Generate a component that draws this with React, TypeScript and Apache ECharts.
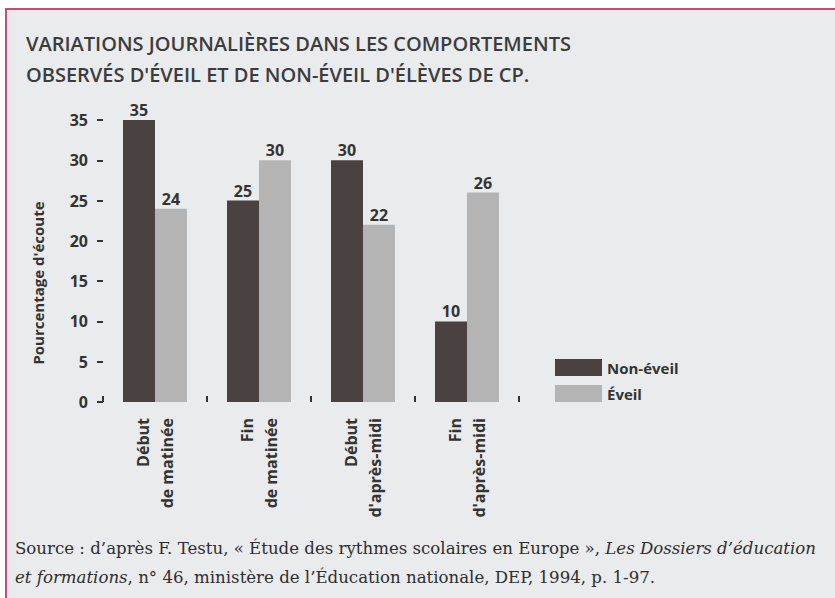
import React, { useEffect, useRef } from "react";
import * as echarts from "echarts";

const categories = [
  "Début\nde matinée",
  "Fin\nde matinée",
  "Début\nd'après-midi",
  "Fin\nd'après-midi",
];
const nonEveil = [35, 25, 30, 10];
const eveil = [24, 30, 22, 26];
const seriesNames = ["Non-éveil", "Éveil"];
const titleLines = [
  "VARIATIONS JOURNALIÈRES DANS LES COMPORTEMENTS",
  "OBSERVÉS D'ÉVEIL ET DE NON-ÉVEIL D'ÉLÈVES DE CP.",
];
const yAxisName = "Pourcentage d'écoute";

const DARK = "#4a4240";
const LIGHT = "#b4b4b4";
const INK = "#333333";
const LABEL_FONT = "'Open Sans', 'Noto Sans', sans-serif";

export default function App() {
  const ref = useRef<HTMLDivElement>(null);
  useEffect(() => {
    document.body.style.margin = "0";
    if (!ref.current) return;
    const chart = echarts.init(ref.current, undefined, { renderer: "svg" });
    const barLabel = {
      show: true,
      position: "top",
      distance: 2,
      fontFamily: LABEL_FONT,
      fontWeight: "bold",
      fontSize: 16,
      color: INK,
    };
    chart.setOption({
      animation: false,
      backgroundColor: "#e9ebec",
      title: {
        text: titleLines.join("\n"),
        left: 21,
        top: 23,
        textStyle: {
          fontFamily: "'Open Sans', sans-serif",
          fontWeight: 600,
          fontSize: 20,
          lineHeight: 31,
          color: "#3c3c3c",
        },
      },
      legend: {
        orient: "vertical",
        left: 555,
        top: 359,
        padding: 0,
        itemWidth: 47,
        itemHeight: 17,
        itemGap: 9,
        icon: "rect",
        data: seriesNames,
        textStyle: {
          fontFamily: LABEL_FONT,
          fontWeight: "bold",
          fontSize: 15,
          color: INK,
        },
      },
      grid: { left: 103, right: 316, top: 120, bottom: 196 },
      xAxis: {
        type: "category",
        data: categories,
        axisLine: { show: false },
        axisTick: {
          show: true,
          inside: true,
          length: 6,
          lineStyle: { color: INK, width: 2 },
        },
        axisLabel: {
          rotate: 90,
          margin: 16,
          fontFamily: LABEL_FONT,
          fontWeight: "bold",
          fontSize: 16,
          lineHeight: 24,
          color: INK,
        },
      },
      yAxis: {
        type: "value",
        min: 0,
        max: 35,
        interval: 5,
        axisLine: { show: false },
        splitLine: { show: false },
        axisTick: { show: true, length: 6, lineStyle: { color: INK, width: 2 } },
        axisLabel: {
          margin: 15,
          fontFamily: LABEL_FONT,
          fontWeight: "bold",
          fontSize: 16,
          color: INK,
        },
      },
      series: [
        {
          name: seriesNames[0],
          type: "bar",
          data: nonEveil,
          barWidth: 32,
          barGap: "0%",
          itemStyle: { color: DARK },
          label: barLabel,
        },
        {
          name: seriesNames[1],
          type: "bar",
          data: eveil,
          barWidth: 32,
          itemStyle: { color: LIGHT },
          label: barLabel,
        },
      ],
      graphic: [
        { type: "rect", left: 0, top: 0, shape: { width: 835, height: 8 }, style: { fill: "#ffffff" } },
        { type: "rect", left: 0, top: 0, shape: { width: 5, height: 598 }, style: { fill: "#ffffff" } },
        { type: "rect", left: 5, top: 8, shape: { width: 830, height: 2 }, style: { fill: "#c8497a" } },
        { type: "rect", left: 5, top: 8, shape: { width: 2, height: 590 }, style: { fill: "#c8497a" } },
        {
          type: "text",
          x: 38,
          y: 283,
          rotation: Math.PI / 2,
          style: {
            text: yAxisName,
            fontFamily: LABEL_FONT,
            fontWeight: "bold",
            fontSize: 15,
            fill: INK,
            align: "center",
            verticalAlign: "middle",
          },
        },
        {
          type: "text",
          left: 15,
          top: 540,
          style: {
            text:
              "{n|Source : d’après F. Testu, « Étude des rythmes scolaires en Europe », }{i|Les Dossiers d’éducation}\n{i|et formations}{n|, n° 46, ministère de l’Éducation nationale, DEP, 1994, p. 1-97.}",
            rich: {
              n: {
                fontFamily: "'DejaVu Serif', serif",
                fontSize: 16.6,
                lineHeight: 29,
                fill: "#2e2e2e",
              },
              i: {
                fontFamily: "'DejaVu Serif', serif",
                fontStyle: "italic",
                fontSize: 16.6,
                lineHeight: 29,
                fill: "#2e2e2e",
              },
            },
          },
        },
      ],
    });
    return () => chart.dispose();
  }, []);
  return <div ref={ref} style={{ width: 835, height: 598 }} />;
}
